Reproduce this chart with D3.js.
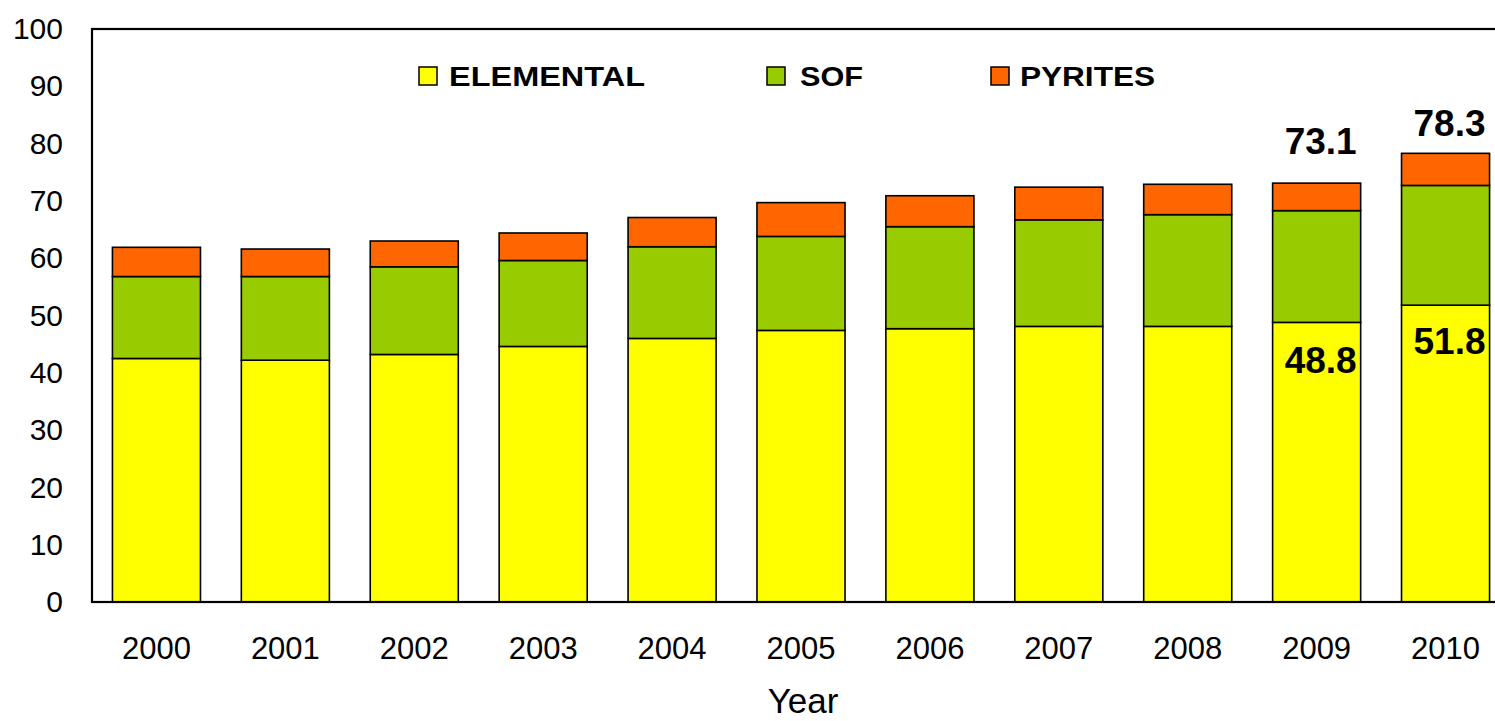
<!DOCTYPE html>
<html>
<head>
<meta charset="utf-8">
<script src="https://cdn.jsdelivr.net/npm/d3@7"></script>
<style>
  html, body { margin: 0; padding: 0; background: #fff; overflow: hidden; }
  svg { display: block; font-family: "Liberation Sans", Arial, sans-serif; }
</style>
</head>
<body>
<svg id="chart" width="1495" height="721"></svg>
<script>
const years = ["2000","2001","2002","2003","2004","2005","2006","2007","2008","2009","2010"];
const elemental = [42.5, 42.2, 43.2, 44.6, 46.0, 47.4, 47.7, 48.1, 48.1, 48.8, 51.8];
const sof       = [14.3, 14.6, 15.3, 15.0, 16.0, 16.4, 17.8, 18.6, 19.5, 19.5, 20.9];
const pyrites   = [5.1, 4.8, 4.5, 4.8, 5.1, 5.9, 5.4, 5.7, 5.3, 4.8, 5.6];
const seriesNames = ["ELEMENTAL", "SOF", "PYRITES"];
const seriesColors = ["#FFFF00", "#99CC00", "#FF6600"];
const yTicks = [0, 10, 20, 30, 40, 50, 60, 70, 80, 90, 100];
const totalLabels = [{year: "2009", text: "73.1", value: 73.1, dy: -29},
                     {year: "2010", text: "78.3", value: 78.3, dy: -17}];
const elemLabels = [{year: "2009", text: "48.8", value: 48.8, dy: 51},
                    {year: "2010", text: "51.8", value: 51.8, dy: 49}];

const svg = d3.select("#chart");
const mLeft = 92, mRight = 1510, mTop = 29, mBottom = 602;

const x = d3.scaleBand().domain(years).range([mLeft, mRight])
  .paddingInner(0.317).paddingOuter(0.1585).align(0.5);
const y = d3.scaleLinear().domain([0, 100]).range([mBottom, mTop]);

const rows = years.map((yr, i) => ({year: yr, ELEMENTAL: elemental[i], SOF: sof[i], PYRITES: pyrites[i]}));
const stack = d3.stack().keys(seriesNames)(rows);

// bars
svg.append("g").selectAll("g").data(stack).join("g")
  .attr("fill", (d, i) => seriesColors[i])
  .selectAll("rect").data(d => d).join("rect")
  .attr("x", d => x(d.data.year))
  .attr("width", x.bandwidth())
  .attr("y", d => y(d[1]))
  .attr("height", d => y(d[0]) - y(d[1]))
  .attr("stroke", "#000").attr("stroke-width", 1.6);

// frame
svg.append("rect").attr("x", mLeft).attr("y", mTop)
  .attr("width", mRight - mLeft).attr("height", mBottom - mTop)
  .attr("fill", "none").attr("stroke", "#000").attr("stroke-width", 2.2);

// y axis
const yAxis = svg.append("g").attr("transform", `translate(${mLeft},0)`)
  .call(d3.axisLeft(y).tickValues(yTicks).tickSize(0).tickPadding(29).tickFormat(d3.format("d")));
yAxis.select(".domain").remove();
yAxis.selectAll("text").attr("font-size", 30).attr("fill", "#000")
  .attr("font-family", "'Liberation Sans', Arial, sans-serif");

// x axis
const xAxis = svg.append("g").attr("transform", `translate(0,${mBottom})`)
  .call(d3.axisBottom(x).tickSize(0).tickPadding(35));
xAxis.select(".domain").remove();
xAxis.selectAll("text").attr("font-size", 31).attr("fill", "#000")
  .attr("font-family", "'Liberation Sans', Arial, sans-serif");

// x title
svg.append("text").attr("x", (mLeft + mRight) / 2 + 2).attr("y", 713)
  .attr("text-anchor", "middle").attr("font-size", 35).text("Year");

// legend
const legendItems = [
  {name: "ELEMENTAL", box: 419, tx: 449, len: 196},
  {name: "SOF", box: 767, tx: 800, len: 63},
  {name: "PYRITES", box: 991, tx: 1020, len: 135}
];
const lg = svg.append("g");
legendItems.forEach((it, i) => {
  lg.append("rect").attr("x", it.box).attr("y", 67).attr("width", 18).attr("height", 18)
    .attr("fill", seriesColors[i]).attr("stroke", "#000").attr("stroke-width", 1.5);
  lg.append("text").attr("x", it.tx).attr("y", 85.5)
    .attr("font-size", 27).attr("font-weight", "bold")
    .attr("textLength", it.len).attr("lengthAdjust", "spacingAndGlyphs")
    .text(it.name);
});

// data labels
const lblG = svg.append("g").attr("font-size", 37).attr("font-weight", "bold").attr("text-anchor", "middle");
totalLabels.concat(elemLabels).forEach(l => {
  lblG.append("text")
    .attr("x", x(l.year) + x.bandwidth() / 2 + 4)
    .attr("y", y(l.value) + l.dy)
    .text(l.text);
});
</script>
</body>
</html>
